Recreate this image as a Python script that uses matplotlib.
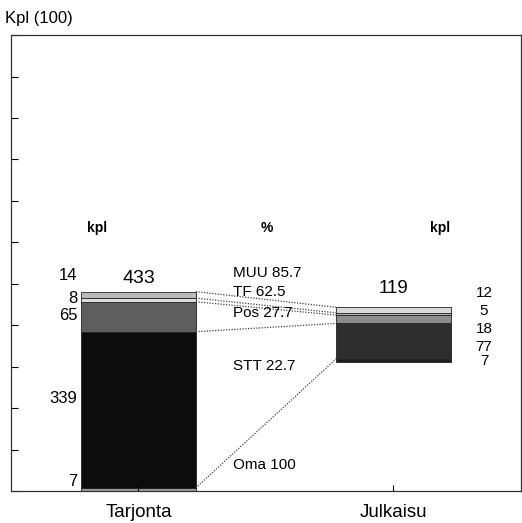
import numpy as np
import matplotlib
matplotlib.use('Agg')
import matplotlib.pyplot as plt

plt.rcParams['font.family'] = ['Liberation Sans', 'DejaVu Sans']

# Data (kpl), bottom -> top
segments = ['Oma', 'STT', 'Pos', 'TF', 'MUU']
tarjonta = [7, 339, 65, 8, 14]
julkaisu = [7, 77, 18, 5, 12]
osuus = [100, 22.7, 27.7, 62.5, 85.7]
bars = ['Tarjonta', 'Julkaisu']

colors_t = ['#9a9a9a', '#0c0c0c', '#5e5e5e', '#dcdcdc', '#b8b8b8']
colors_j = ['#202020', '#2e2e2e', '#8c8c8c', '#b0b0b0', '#d8d8d8']

x_pos = [1, 3]
width = 0.9
j_offset = 280  # Julkaisu bar floats

fig = plt.figure(figsize=(5.22, 5.23), dpi=100)
ax = fig.add_axes([0.021, 0.061, 0.977, 0.872])

bottom = 0
for v, c in zip(tarjonta, colors_t):
    ax.bar(x_pos[0], v, width, bottom=bottom, color=c, edgecolor='#222222', linewidth=0.6)
    bottom += v
bottom = j_offset
for v, c in zip(julkaisu, colors_j):
    ax.bar(x_pos[1], v, width, bottom=bottom, color=c, edgecolor='#222222', linewidth=0.6)
    bottom += v

# dotted connectors between segment boundaries
cum_t = np.cumsum(tarjonta)
cum_j = np.cumsum(julkaisu) + j_offset
for a, b in zip(cum_t, cum_j):
    ax.plot([x_pos[0] + width / 2, x_pos[1] - width / 2], [a, b], ls=(0, (1, 1.2)),
            color='#444444', lw=0.9)

# totals above bars
ax.text(x_pos[0], sum(tarjonta) + 10, str(sum(tarjonta)), ha='center', va='bottom', fontsize=14)
ax.text(x_pos[1], cum_j[-1] + 22, str(sum(julkaisu)), ha='center', va='bottom', fontsize=13.5)

# left kpl labels
left_y = [20, 200, 382, 419, 469]
for v, y in zip(tarjonta, left_y):
    ax.text(0.52, y, str(v), ha='right', va='center', fontsize=12)

# right kpl labels
right_y = [282, 313, 352, 391, 430]
for v, y in zip(julkaisu, right_y):
    ax.text(3.71, y, str(v), ha='center', va='center', fontsize=11)

# percent labels
pct_y = [56, 271, 386, 432, 473]
for s, p, y in zip(segments, osuus, pct_y):
    ax.text(1.74, y, f'{s} {p:g}', ha='left', va='center', fontsize=11)

# column headers
for x, t in zip([0.675, 2.008, 3.365], ['kpl', '%', 'kpl']):
    ax.text(x, 571, t, ha='center', va='center', fontsize=10, fontweight='bold')

ax.set_xlim(0, 4)
ax.set_ylim(0, 990)
ax.set_yticks(np.arange(0, 991, 90))
ax.set_yticklabels([])
ax.tick_params(axis='y', direction='in', length=5, width=0.8)
ax.set_xticks(x_pos)
ax.set_xticklabels(bars, fontsize=13.5)
ax.tick_params(axis='x', direction='in', length=4, width=0.8, pad=9)
for s in ax.spines.values():
    s.set_linewidth(0.9)
    s.set_color('#333333')

fig.text(0.01, 0.965, 'Kpl (100)', ha='left', va='center', fontsize=12)

fig.savefig('out.png', dpi=100)
